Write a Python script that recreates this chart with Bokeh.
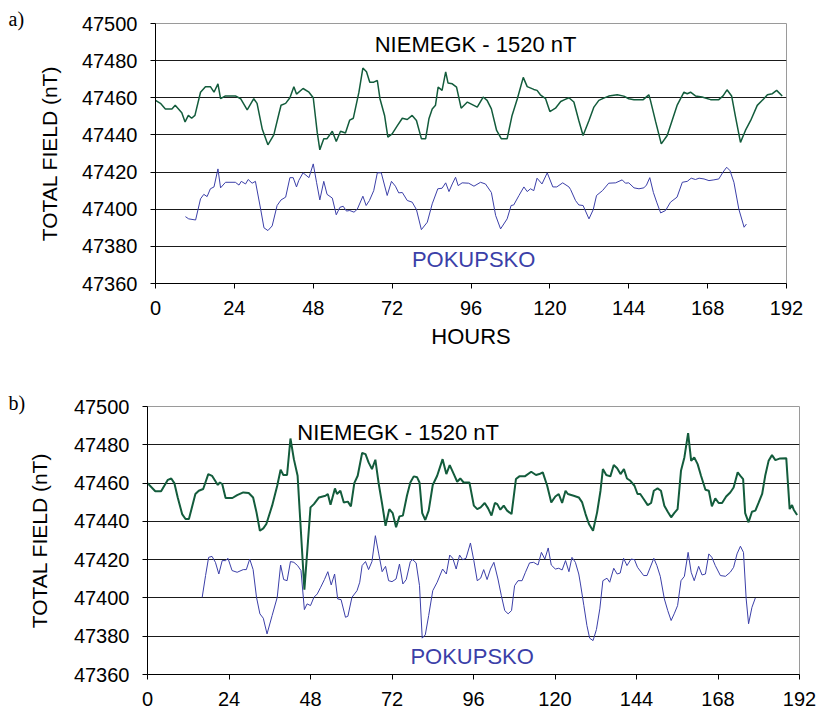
from bokeh.plotting import figure
from bokeh.layouts import column, row
from bokeh.models import Range1d, FixedTicker, Label, Title
from bokeh.embed import file_html
from bokeh.resources import INLINE

# ---------------- data ----------------
x_ticks = [0, 24, 48, 72, 96, 120, 144, 168, 192]
y_ticks = [47360, 47380, 47400, 47420, 47440, 47460, 47480, 47500]
grid_ticks = [47380, 47400, 47420, 47440, 47460, 47480]

# panel a) NIEMEGK (shifted by -1520 nT)
a_niem_h = [0, 1.5, 3, 5, 6, 8, 9, 10, 11, 12, 13.7, 15.2, 16.7, 17.8, 19, 19.8, 21.3, 24.3, 25.9, 27.9,
            29.9, 30.9, 32.5, 34.2, 36, 37.5, 38.2, 39.6, 40.9, 42.1, 42.9, 44.9, 46.7, 48, 49.2, 50, 51.2,
            52.2, 53.8, 55, 56.3, 57.8, 59.1, 60.2, 61.9, 63.1, 64.2, 65.2, 66.4, 67.5, 68.3, 69.7, 70.7,
            72, 73.6, 75.1, 76.6, 78.1, 79.4, 80.9, 82.2, 83.2, 84.2, 85.2, 86, 87.2, 88.3, 89, 90.3, 91.6,
            93, 94.9, 97.9, 99.7, 100.9, 102.2, 103.8, 105.2, 107, 108.5, 110.1, 111.9, 113.1, 115.1, 116.1,
            117.1, 118.7, 120, 121.7, 123.3, 124.5, 125.8, 127.3, 128.8, 130.1, 131.9, 133.4, 134.9, 136.4,
            137.9, 140.5, 142.5, 144, 145.6, 148.4, 150.1, 150.6, 152.2, 153.9, 155.7, 157.2, 158.7, 160.8,
            161.8, 162.8, 164.3, 166.3, 168.9, 171.4, 172.7, 173.9, 175.3, 176.5, 178, 179.5, 181.1, 183.1,
            185.1, 186.2, 187.7, 189, 190.7]
a_niem_v = [47458.6, 47457, 47454, 47454, 47456, 47452, 47447, 47450.5, 47449, 47450.5, 47463, 47466, 47466,
            47463, 47467.5, 47459.5, 47461, 47461, 47459.5, 47453.5, 47459.5, 47457, 47443, 47434.7, 47440,
            47451, 47456, 47457, 47460, 47466, 47462, 47465, 47463, 47460, 47441.5, 47432, 47438, 47438,
            47442, 47436.5, 47442, 47441, 47448, 47449, 47463, 47476, 47474, 47468.4, 47468.4, 47469.3,
            47459.5, 47450.5, 47438.8, 47440.6, 47445, 47449, 47448.3, 47450.5, 47447.8, 47438, 47438,
            47448.7, 47454, 47456, 47465.7, 47464, 47474, 47468, 47467.5, 47465.7, 47454.4, 47457.7, 47455,
            47460.4, 47458.6, 47454, 47442.4, 47438, 47438, 47450.5, 47459.5, 47471, 47466, 47464.5, 47464,
            47461.6, 47459.5, 47452.6, 47454.4, 47458, 47459, 47460, 47457.7, 47447.8, 47439.7, 47447.8,
            47455, 47458.6, 47459.8, 47460.9, 47461.6, 47460.9, 47459.5, 47459, 47459, 47461.6, 47458.6,
            47447, 47435.2, 47439.7, 47447.8, 47455.9, 47463, 47462.2, 47463, 47461, 47460.4, 47459, 47459,
            47461, 47464.3, 47461, 47449.6, 47436, 47442.4, 47447.8, 47455.9, 47459.5, 47461.6, 47462.2,
            47464, 47461]

# panel a) POKUPSKO
a_poku_h = [9.1, 10.1, 12.2, 13.7, 14.7, 15.7, 16.7, 17.8, 19, 19.8, 21.3, 24.3, 25.4, 26.1, 27.4, 28.2,
            29.4, 30.4, 32, 33, 34.2, 35.5, 37, 38.2, 39.6, 40.9, 41.9, 42.9, 43.6, 44.9, 46.7, 48, 49, 50,
            51.2, 52.2, 53.8, 55, 56.1, 57.1, 58.1, 59.1, 60.4, 61.4, 63.1, 64.1, 65.1, 66.4, 67.5, 68.7,
            70.5, 71.8, 73, 74, 75.1, 76.6, 78.1, 79.4, 80.9, 82.7, 84.2, 85.9, 87.2, 88.3, 89.3, 90.3, 91.3,
            92.1, 93.3, 95.3, 96.9, 98.9, 100.4, 102.2, 103.5, 105, 107, 108.2, 109, 110.6, 112.1, 113.1,
            114.1, 115.1, 116.1, 117.6, 119.2, 120.9, 122.1, 123.9, 125.8, 126.3, 127.8, 128.8, 130.1, 131.9,
            133.2, 134.2, 136, 137.9, 140, 142, 143, 144, 145.6, 147.1, 148.6, 149.4, 150.4, 151.5, 152.5,
            153.7, 155.2, 156.7, 158.7, 160.3, 161.8, 163, 164.3, 165.4, 166.9, 168.4, 169.9, 171.4, 172.7,
            173.8, 174.8, 176, 177.5, 179.1, 179.8]
a_poku_v = [47396, 47394.8, 47394.2, 47405.6, 47408, 47406.8, 47411, 47412, 47421.7, 47411.5, 47414.5,
            47414.5, 47413, 47415, 47413.6, 47416, 47414, 47415, 47400, 47390, 47388.5, 47391, 47402, 47405,
            47406.5, 47417, 47417, 47412, 47415.5, 47419.6, 47417, 47424.4, 47414.5, 47405, 47415, 47408,
            47406, 47397, 47401, 47401.6, 47399, 47399.3, 47398.4, 47400, 47407, 47402, 47404.7, 47410,
            47419.6, 47419.6, 47407.4, 47415, 47412.4, 47408.8, 47409, 47404.7, 47403.8, 47399.8, 47389,
            47393, 47402.9, 47411, 47411.3, 47414.2, 47409.5, 47413.6, 47417.2, 47412.7, 47414.2, 47414,
            47412.4, 47414.5, 47413.6, 47409, 47396.6, 47389.4, 47394.8, 47402, 47402.3, 47407.4, 47412,
            47409.5, 47411, 47410, 47416.7, 47413.6, 47419.6, 47412, 47412, 47414.2, 47412, 47410.6,
            47404.7, 47402.3, 47402, 47394.8, 47399.8, 47407.4, 47410, 47414, 47414.2, 47415.8, 47414,
            47414.2, 47411.5, 47411, 47411.5, 47413, 47417, 47409, 47403.8, 47398, 47399.3, 47403.8,
            47406.5, 47414.5, 47415, 47416.7, 47416, 47416.7, 47416.3, 47415.4, 47415.8, 47416.3, 47420,
            47422.6, 47420.8, 47414.5, 47400, 47390.3, 47392]

# panel b) NIEMEGK (shifted by -1520 nT)
b_niem_h = [0, 2.3, 4, 6, 7, 7.9, 8.9, 10.2, 11.2, 12.2, 14.1, 15.1, 16.4, 17.9, 19, 20.7, 21.3, 22, 23, 25,
            26.4, 28.2, 29.8, 31.1, 32.1, 33.1, 34.1, 35, 36.7, 38.2, 39.2, 40, 41.1, 42.1, 43.1, 44.2, 46.2,
            48, 49, 50.5, 52.4, 53.1, 53.9, 55.2, 55.8, 56.8, 57.8, 59, 59.9, 60.9, 61.9, 63.2, 64.2, 65.1,
            66.1, 67.1, 68.1, 69.1, 70.1, 71.2, 72.2, 73.2, 74.2, 75.2, 76.4, 77.4, 78.4, 79.4, 80.1, 80.9,
            81.8, 82.8, 84, 85.3, 86.9, 88, 89, 90.2, 91.2, 92.1, 93.1, 94.8, 96.1, 97.1, 98.1, 99.3, 100.3,
            101.3, 102.3, 103, 103.9, 104.9, 105.9, 107.2, 108.5, 109.5, 111.1, 113, 114.4, 115.4, 116.4,
            117.7, 118.9, 120.1, 121.1, 122.1, 123.1, 123.8, 125.5, 127, 128, 129, 130, 131.2, 132.4, 133.4,
            134.1, 135.1, 136.3, 137.3, 138.3, 139.3, 140.3, 141.2, 142.2, 143.4, 144.3, 145.1, 146.1, 147.3,
            148.3, 149.1, 150.2, 151.2, 152.2, 153.2, 154.2, 155.1, 156.1, 157.1, 158.1, 159.2, 160.1, 161,
            162, 163, 164.3, 165.3, 166.2, 167.2, 168.2, 169.2, 170.4, 171.6, 172.6, 173.8, 174.6, 175.4,
            176, 177, 178, 179, 180, 181, 181.9, 182.9, 183.9, 184.9, 186.3, 188.1, 189.1, 189.8, 190.3,
            191.3]
b_niem_v = [47460, 47455.7, 47455.7, 47461.7, 47462.4, 47460, 47452.5, 47443.8, 47441.2, 47441.2, 47454.3,
            47456, 47456.9, 47464.7, 47463.8, 47459, 47460.3, 47459.5, 47452.2, 47452.2, 47453.7, 47455.1,
            47454.8, 47452.5, 47444.7, 47435.1, 47436.3, 47438.6, 47448.2, 47458.6, 47467, 47464.2, 47464.2,
            47483.3, 47472.5, 47463.8, 47404.3, 47447.3, 47449, 47452.5, 47453.4, 47454.3, 47448.7, 47457.2,
            47454.3, 47456, 47449.9, 47450.3, 47447.8, 47460, 47463.8, 47475.7, 47475.1, 47470.8, 47467.3,
            47472.2, 47459.5, 47449, 47437.7, 47446.4, 47444.3, 47436.9, 47442.6, 47443, 47453.4, 47460.3,
            47463.5, 47463, 47460.3, 47444.3, 47440.7, 47445.6, 47459, 47463.8, 47472.5, 47464.7, 47469.4,
            47464.7, 47460.7, 47462.4, 47460.3, 47460.3, 47448.2, 47446.4, 47447.3, 47449.6, 47446.8, 47443,
            47449.6, 47449, 47446.1, 47448.2, 47445.6, 47443.8, 47462.1, 47463.5, 47463.5, 47465.9, 47464.2,
            47464.7, 47465.6, 47458.6, 47449.9, 47453, 47454.3, 47449.6, 47456, 47454.3, 47453.4, 47452.5,
            47449.9, 47443.8, 47438.6, 47435.1, 47444.7, 47456, 47467.3, 47464.2, 47463.5, 47469.4, 47467.7,
            47464.7, 47467.3, 47462.4, 47461.2, 47458.6, 47454.3, 47454.3, 47451.7, 47448.5, 47449.6, 47456,
            47457.2, 47456, 47448.2, 47445, 47442.1, 47444.3, 47446.4, 47466.4, 47473.4, 47486.1, 47471.6,
            47473.4, 47469.9, 47463.8, 47456.5, 47456, 47447.8, 47452, 47449.6, 47449.6, 47453, 47455.1,
            47457.7, 47465.6, 47463.8, 47462.1, 47444.3, 47439.5, 47445, 47445.6, 47449.9, 47454.3, 47463.8,
            47471.6, 47474.6, 47472, 47472.9, 47473, 47446.4, 47448.5, 47446.1, 47443.3]

# panel b) POKUPSKO
b_poku_h = [16.1, 17.1, 18, 19, 20, 21, 22, 23, 23.7, 24.9, 26.4, 28.2, 29.1, 30.1, 31.1, 32.1, 33.1, 34.1,
            35.2, 36.7, 38.2, 39.2, 40.1, 41.1, 42.1, 43.1, 44.2, 45.2, 46.2, 47, 48, 49, 50, 51, 52.1, 53.1,
            54.1, 55.1, 56, 57, 58.3, 59, 60.2, 61.7, 62.5, 63.2, 64.2, 65.1, 66.1, 67.1, 68.1, 69.1, 70.1,
            71, 72, 73.2, 74.2, 75.2, 76.2, 77.4, 78.1, 79.1, 80.1, 80.9, 81.8, 82.8, 84, 85.3, 86.9, 88, 89,
            89.9, 90.9, 91.9, 92.8, 93.8, 95.1, 96.1, 97.1, 98.1, 99, 100, 101, 102, 103.2, 104.2, 105.2,
            106.2, 107.2, 108.1, 109.1, 110.3, 111.3, 112.5, 113.7, 115, 116, 117, 118, 118.9, 120.1, 121.1,
            122.1, 123.1, 124.1, 125, 126, 127, 127.5, 128.5, 129.4, 130.2, 131.2, 132.2, 133.2, 134.1,
            135.3, 136.1, 137.3, 138.3, 139.2, 140.2, 141.2, 142.4, 143.4, 144.3, 146.1, 147.1, 149.1, 150,
            151, 152.2, 153.2, 154.2, 155.1, 156.1, 157.1, 158.1, 159.2, 160.1, 161, 162.3, 163.3, 164.3,
            165.3, 166.2, 167.2, 168.7, 170.2, 171.6, 172.6, 173.6, 174.6, 175.5, 176.3, 177, 178, 179]
b_poku_v = [47400.3, 47411.7, 47421.2, 47421.7, 47418.6, 47412.5, 47419.5, 47419.5, 47420.7, 47414.3,
            47413.4, 47414.8, 47414.8, 47420.3, 47414.8, 47400.3, 47391.7, 47389.4, 47381.2, 47390.8,
            47400.3, 47417.2, 47409.6, 47409, 47419, 47418.6, 47416.9, 47414.3, 47393.9, 47396.9, 47396,
            47400.3, 47402.1, 47405.6, 47409.6, 47413.7, 47406.8, 47412.5, 47399.5, 47399.1, 47389.9,
            47390.4, 47400.3, 47403.8, 47408.2, 47416.9, 47419, 47414.8, 47419, 47432.5, 47423, 47413.7,
            47416.5, 47409, 47408.5, 47409.9, 47417.7, 47407.3, 47409.6, 47419, 47420, 47418.3, 47406.4,
            47379, 47380.7, 47390.8, 47403.8, 47408.2, 47415.1, 47412.5, 47422.4, 47420.7, 47415.1, 47422.4,
            47420, 47420.7, 47428.7, 47419.5, 47409, 47410.3, 47414.8, 47409.6, 47415.1, 47418.6, 47409.9,
            47401.2, 47393.4, 47391.7, 47393.4, 47406.4, 47409, 47409, 47413.4, 47418.3, 47418.6, 47417.2,
            47423.8, 47420.3, 47426.1, 47417.2, 47415.1, 47415.5, 47414.6, 47419.5, 47413.7, 47421.2,
            47418.6, 47412.5, 47407.3, 47396, 47385.6, 47379, 47377.7, 47383.5, 47394.3, 47409, 47410.3,
            47408.2, 47415.5, 47412.5, 47413, 47420.7, 47416.9, 47420.3, 47420, 47416, 47411.7, 47411.7,
            47420.7, 47416.9, 47411.3, 47399.5, 47393.4, 47388.2, 47391.7, 47396, 47409, 47411.3, 47423.8,
            47413.4, 47409, 47416.5, 47412, 47412.5, 47423, 47421.2, 47416.9, 47411.7, 47411.3, 47413.4,
            47416, 47423, 47427, 47423.8, 47399.5, 47386.5, 47395.1, 47400]

GREEN = "#135c3c"
BLUE = "#3b3fa8"
FONT = "Liberation Sans"


def make_panel(height, left, right, top, bottom, niem_h, niem_v, poku_h, poku_v,
               green_w, show_xlabel, tag, tag_standoff, niem_pos, poku_pos,
               ylab_standoff, xlab_standoff):
    p = figure(width=820, height=height, output_backend="svg", toolbar_location=None,
               x_range=Range1d(0, 192), y_range=Range1d(47360, 47500),
               min_border_left=left, min_border_right=right,
               min_border_top=top, min_border_bottom=bottom)
    p.background_fill_color = "white"
    p.border_fill_color = "white"
    p.outline_line_color = "#9a9a9a"
    p.outline_line_width = 1

    p.xgrid.grid_line_color = None
    p.ygrid.ticker = FixedTicker(ticks=grid_ticks)
    p.ygrid.grid_line_color = "#1a1a1a"
    p.ygrid.grid_line_width = 1

    for ax in (p.xaxis[0], p.yaxis[0]):
        ax.axis_line_color = "black"
        ax.major_tick_line_color = "black"
        ax.major_tick_in = 0
        ax.major_tick_out = 5
        ax.minor_tick_line_color = None
        ax.major_label_text_font = FONT
        ax.major_label_text_font_size = "20px"
        ax.major_label_text_color = "black"
        ax.axis_label_text_font = FONT
        ax.axis_label_text_font_size = "21px"
        ax.axis_label_text_font_style = "normal"
        ax.axis_label_text_color = "black"

    p.xaxis.ticker = FixedTicker(ticks=x_ticks)
    p.yaxis.ticker = FixedTicker(ticks=y_ticks)
    p.yaxis.major_label_standoff = 13
    p.xaxis.major_label_standoff = xlab_standoff
    p.yaxis.axis_label = "TOTAL FIELD (nT)"
    p.yaxis.axis_label_standoff = ylab_standoff
    if show_xlabel:
        p.xaxis.axis_label = "HOURS"
        p.xaxis.axis_label_standoff = 6
        p.xaxis.axis_label_text_font_size = "22px"

    p.line(niem_h, niem_v, line_color=GREEN, line_width=green_w)
    p.line(poku_h, poku_v, line_color=BLUE, line_width=1)

    p.add_layout(Label(x=niem_pos[0], y=niem_pos[1], text="NIEMEGK - 1520 nT",
                       text_font=FONT, text_font_size="22px", text_color="black",
                       text_align="center", text_baseline="middle"))
    p.add_layout(Label(x=poku_pos[0], y=poku_pos[1], text="POKUPSKO",
                       text_font=FONT, text_font_size="22px", text_color=BLUE,
                       text_align="center", text_baseline="middle"))
    # panel tag, placed left of the frame
    p.add_layout(Title(text=tag, align="left", offset=-(left - 8), standoff=tag_standoff,
                       text_font="Liberation Serif", text_font_size="20px",
                       text_font_style="normal", text_color="black"), "above")
    return p


pa = make_panel(356, 155, 34, 23, 73, a_niem_h, a_niem_v, a_poku_h, a_poku_v,
                1.5, True, "a)", -12, (97.4, 47488.5), (96.8, 47373), 18, 12)
pb = make_panel(361, 147, 21, 50, 43, b_niem_h, b_niem_v, b_poku_h, b_poku_v,
                2, False, "b)", -15, (73.8, 47486.3), (95.6, 47369.3), 20, 12)

layout = column(row(pa), row(pb), spacing=0)
open("out.html", "w").write(file_html(layout, INLINE))
